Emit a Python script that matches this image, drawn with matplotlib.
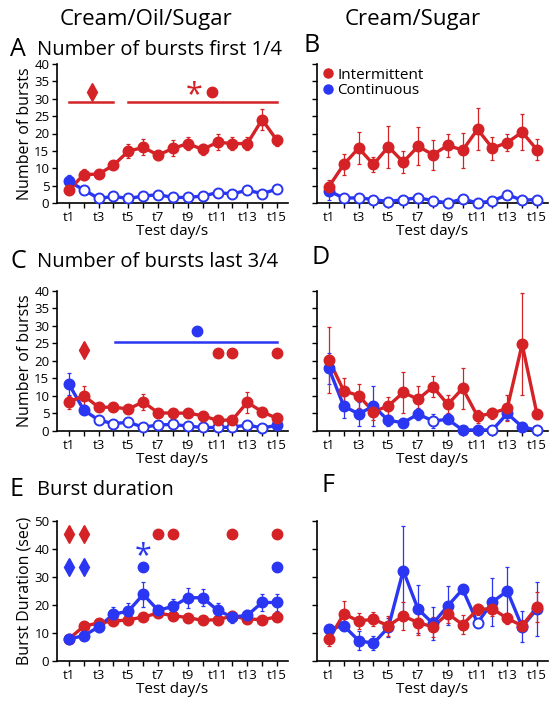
"""
Burst analysis figure: intermittent vs continuous access, 15 test days
"""
import matplotlib
matplotlib.use('Agg')
import matplotlib.pyplot as plt
from matplotlib.lines import Line2D

plt.rcParams['font.family'] = ['Open Sans', 'DejaVu Sans']

RED = '#d42226'
BLUE = '#2a36f2'

days = list(range(1, 16))
xtick_labels = ['t%d' % d if d % 2 == 1 else '' for d in days]

# Panel A - bursts first 1/4, Cream/Oil/Sugar
A_red = [3.7, 8.2, 8.3, 10.9, 14.9, 16.0, 13.8, 15.7, 17.1, 15.4, 17.5, 17.1, 17.1, 24.0, 18.0]
A_red_err = [0.8, 1.5, 1.0, 1.0, 2.0, 2.3, 1.3, 2.3, 1.8, 1.7, 2.3, 1.8, 1.8, 3.0, 1.5]
A_blue = [6.2, 3.8, 1.3, 1.9, 1.3, 2.0, 2.4, 1.6, 1.6, 2.0, 3.0, 2.6, 3.7, 2.7, 4.0]
A_blue_err = [2.0, 0.5, 0.4, 0.4, 0.3, 0.4, 0.5, 0.4, 0.4, 0.4, 0.5, 0.4, 0.5, 0.4, 0.5]
A_blue_filled = [True] + [False] * 14

# Panel B - bursts first 1/4, Cream/Sugar
B_red = [4.7, 11.1, 15.8, 11.1, 16.2, 11.8, 16.3, 13.9, 16.6, 15.2, 21.2, 15.8, 17.4, 20.4, 15.3]
B_red_err = [2.0, 3.0, 4.5, 2.1, 6.1, 3.1, 5.5, 4.3, 3.4, 5.0, 6.0, 3.3, 2.4, 5.1, 3.0]
B_blue = [3.5, 1.4, 1.5, 1.0, 0.4, 1.0, 1.5, 0.7, 0.0, 1.2, 0.0, 0.6, 2.4, 0.8, 1.0]
B_blue_err = [2.5, 0.5, 0.5, 0.5, 0.3, 0.5, 0.5, 0.4, 0.0, 0.5, 0.0, 0.4, 1.0, 0.4, 0.5]
B_blue_filled = [True] + [False] * 14

# Panel C - bursts last 3/4, Cream/Oil/Sugar
C_red = [8.2, 10.1, 6.8, 6.8, 6.3, 8.3, 5.2, 5.1, 5.1, 4.4, 3.0, 3.2, 8.2, 5.5, 3.6]
C_red_err = [1.8, 2.7, 1.0, 1.0, 0.8, 2.3, 1.0, 1.0, 1.0, 0.8, 0.6, 0.6, 3.0, 1.0, 0.5]
C_blue = [13.4, 6.0, 3.1, 2.1, 2.5, 1.1, 1.7, 1.9, 1.4, 1.0, 1.0, 1.1, 1.7, 0.9, 1.6]
C_blue_err = [3.2, 0.8, 0.4, 0.3, 0.3, 0.2, 0.3, 0.3, 0.3, 0.2, 0.2, 0.2, 0.3, 0.2, 0.3]
C_blue_filled = [True, True] + [False] * 12 + [True]

# Panel D - bursts last 3/4, Cream/Sugar
D_red = [20.3, 11.5, 10.1, 5.5, 7.2, 11.0, 9.1, 12.6, 7.6, 12.2, 4.2, 5.1, 6.5, 24.8, 4.8]
D_red_err = [9.5, 3.5, 3.4, 2.4, 2.6, 5.8, 3.8, 3.0, 2.6, 5.8, 1.9, 1.6, 3.7, 14.5, 1.2]
D_blue = [17.9, 7.1, 4.9, 7.1, 3.0, 2.4, 4.8, 2.9, 3.3, 0.3, 0.3, 0.3, 5.0, 1.2, 0.2]
D_blue_err = [4.5, 3.3, 3.5, 5.7, 1.5, 1.0, 1.7, 2.0, 1.0, 0.2, 0.2, 0.2, 2.0, 0.5, 0.1]
D_blue_filled = [True] * 7 + [False] + [True] * 3 + [False] + [True] * 2 + [False]

# Panel E - burst duration, Cream/Oil/Sugar
E_red = [7.9, 12.4, 13.6, 14.2, 14.7, 15.7, 17.1, 16.2, 15.5, 14.5, 14.8, 16.0, 15.0, 14.8, 15.7]
E_red_err = [0.8, 1.0, 1.0, 1.0, 1.2, 1.0, 1.0, 1.0, 1.0, 1.0, 1.0, 1.2, 1.5, 1.0, 1.0]
E_blue = [7.9, 9.0, 12.2, 16.7, 17.8, 23.8, 18.1, 19.5, 22.6, 22.6, 18.1, 15.7, 16.3, 20.9, 20.9]
E_blue_err = [0.8, 1.0, 2.0, 2.5, 3.0, 4.5, 2.0, 2.5, 3.5, 3.0, 2.5, 2.0, 2.0, 3.0, 3.0]
E_blue_filled = [True] * 15

# Panel F - burst duration, Cream/Sugar
F_red = [7.7, 16.8, 14.3, 14.9, 12.6, 16.1, 13.7, 12.2, 16.9, 13.0, 18.4, 18.7, 15.2, 12.6, 19.3]
F_red_err = [2.5, 4.8, 2.8, 2.5, 3.5, 5.0, 4.5, 3.5, 3.5, 3.5, 2.0, 2.5, 2.0, 2.0, 5.5]
F_blue = [11.4, 12.6, 7.3, 6.3, 12.0, 32.3, 18.5, 13.4, 19.7, 25.6, 13.6, 21.1, 25.0, 12.2, 18.6]
F_blue_err = [1.0, 1.5, 3.5, 2.5, 3.5, 16.0, 8.5, 6.0, 7.0, 1.5, 1.0, 8.5, 8.5, 5.5, 9.7]
F_blue_filled = [True] * 10 + [False] + [True] * 4

# significance marks (x in test days, y in axis units)
A_bars_x = [(1, 4), (5, 15)]
A_bars_y = 29
A_diamond = (2.55, 32)
A_star = (9.4, 31.0)
A_dot = (10.6, 32)

C_diamond = (2, 23)
C_blue_bar_x = (4.1, 15)
C_blue_bar_y = 25.3
C_blue_dot = (9.6, 28.6)
C_red_dots_x = [11, 12, 15]
C_red_dots_y = 22.2

E_red_diamonds_x = [1, 2]
E_red_dots_x = [7, 8, 12, 15]
E_red_y = 45.5
E_blue_diamonds_x = [1, 2]
E_blue_dots_x = [6, 15]
E_blue_y = 33.4
E_blue_star = (6, 37.5)


def draw_series(ax, y, err, color, filled):
    ax.errorbar(days, y, yerr=err, fmt='none', ecolor=color, elinewidth=0.9,
                capsize=1.5, capthick=0.9, zorder=2, clip_on=False)
    ax.plot(days, y, '-', color=color, lw=2.4, zorder=3, clip_on=False)
    for d, v, f in zip(days, y, filled):
        ax.plot(d, v, 'o', ms=7.2, mec=color, mew=1.4,
                mfc=color if f else 'white', zorder=4, clip_on=False)


def style_axes(ax, ymax, ystep, ylabel=None, show_ylabels=True):
    ax.set_xlim(0.2, 15.74)
    ax.set_ylim(0, ymax)
    ax.set_xticks(days)
    ax.set_xticklabels(xtick_labels, fontsize=9.5)
    ax.set_yticks(range(0, ymax + 1, ystep))
    if not show_ylabels:
        ax.set_yticklabels([])
    else:
        ax.tick_params(axis='y', labelsize=9.5)
    ax.spines['top'].set_visible(False)
    ax.spines['right'].set_visible(False)
    for s in ('left', 'bottom'):
        ax.spines[s].set_linewidth(1.2)
    ax.tick_params(direction='out', length=3.5, width=1, pad=2)
    ax.set_xlabel('Test day/s', fontsize=11, labelpad=0)
    if ylabel:
        ax.set_ylabel(ylabel, fontsize=11.5, labelpad=1)


fig = plt.figure(figsize=(5.57, 7.07), dpi=100)

W, H = 557.0, 707.0


def add_ax(left, top, right, bottom):
    return fig.add_axes([left / W, 1 - bottom / H, (right - left) / W, (bottom - top) / H])


axA = add_ax(57, 64, 288, 203)
axB = add_ax(317, 64, 548, 203)
axC = add_ax(57, 291, 288, 431)
axD = add_ax(317, 291, 548, 431)
axE = add_ax(57, 521, 288, 661)
axF = add_ax(317, 521, 548, 661)

# A
draw_series(axA, A_blue, A_blue_err, BLUE, A_blue_filled)
draw_series(axA, A_red, A_red_err, RED, [True] * 15)
for x0, x1 in A_bars_x:
    axA.plot([x0, x1], [A_bars_y, A_bars_y], color=RED, lw=1.8)
axA.plot(*A_diamond, 'd', color=RED, ms=9)
axA.text(A_star[0], A_star[1], '*', color=RED, fontsize=22, ha='center', va='center')
axA.plot(*A_dot, 'o', color=RED, ms=7.5)
style_axes(axA, 40, 5, 'Number of bursts')

# B
draw_series(axB, B_blue, B_blue_err, BLUE, B_blue_filled)
draw_series(axB, B_red, B_red_err, RED, [True] * 15)
style_axes(axB, 40, 5, show_ylabels=False)
handles = [Line2D([], [], marker='o', ls='none', color=RED, ms=6.5, label='Intermittent'),
           Line2D([], [], marker='o', ls='none', color=BLUE, ms=6.5, label='Continuous')]
axB.legend(handles=handles, loc='upper left', bbox_to_anchor=(-0.03, 1.04), frameon=False,
           fontsize=11, handletextpad=0.0, labelspacing=0.05, borderaxespad=0.2,
           handlelength=1.2)

# C
draw_series(axC, C_blue, C_blue_err, BLUE, C_blue_filled)
draw_series(axC, C_red, C_red_err, RED, [True] * 15)
axC.plot(*C_diamond, 'd', color=RED, ms=9)
axC.plot(C_blue_bar_x, [C_blue_bar_y, C_blue_bar_y], color=BLUE, lw=1.8)
axC.plot(*C_blue_dot, 'o', color=BLUE, ms=7.5)
axC.plot(C_red_dots_x, [C_red_dots_y] * len(C_red_dots_x), 'o', color=RED, ms=7.5, ls='none')
style_axes(axC, 40, 5, 'Number of bursts')

# D
draw_series(axD, D_blue, D_blue_err, BLUE, D_blue_filled)
draw_series(axD, D_red, D_red_err, RED, [True] * 15)
style_axes(axD, 40, 5, show_ylabels=False)

# E
draw_series(axE, E_red, E_red_err, RED, [True] * 15)
draw_series(axE, E_blue, E_blue_err, BLUE, E_blue_filled)
axE.plot(E_red_diamonds_x, [E_red_y] * 2, 'd', color=RED, ms=9, ls='none', clip_on=False)
axE.plot(E_red_dots_x, [E_red_y] * len(E_red_dots_x), 'o', color=RED, ms=7.5, ls='none', clip_on=False)
axE.plot(E_blue_diamonds_x, [E_blue_y] * 2, 'd', color=BLUE, ms=9, ls='none', clip_on=False)
axE.plot(E_blue_dots_x, [E_blue_y] * len(E_blue_dots_x), 'o', color=BLUE, ms=7.5, ls='none', clip_on=False)
axE.text(E_blue_star[0], E_blue_star[1], '*', color=BLUE, fontsize=22, ha='center', va='center')
style_axes(axE, 50, 10, 'Burst Duration (sec)')

# F
draw_series(axF, F_blue, F_blue_err, BLUE, F_blue_filled)
draw_series(axF, F_red, F_red_err, RED, [True] * 15)
style_axes(axF, 50, 10, show_ylabels=False)

# column headers and panel titles
fig.text(146 / W, 1 - 20 / H, 'Cream/Oil/Sugar', fontsize=16, ha='center', va='center')
fig.text(413 / W, 1 - 20 / H, 'Cream/Sugar', fontsize=16, ha='center', va='center')

panel_titles = [('A', 10, 50, 'Number of bursts first 1/4'),
                ('B', 303, 45, ''),
                ('C', 10, 262, 'Number of bursts last 3/4'),
                ('D', 312, 258, ''),
                ('E', 10, 490, 'Burst duration'),
                ('F', 322, 485, '')]
for letter, x, y, title in panel_titles:
    fig.text(x / W, 1 - y / H, letter, fontsize=18, ha='left', va='center')
    if title:
        fig.text((x + 27) / W, 1 - y / H, title, fontsize=14.5, ha='left', va='center')

plt.savefig('out.png', dpi=100, facecolor='white')
plt.close()
